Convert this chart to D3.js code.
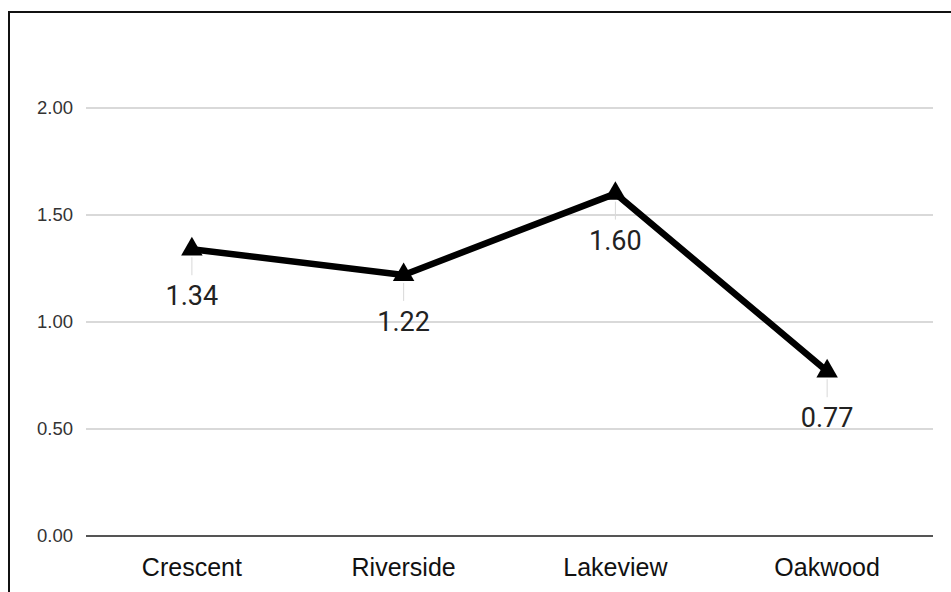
<!DOCTYPE html>
<html>
<head>
<meta charset="utf-8">
<script src="https://cdn.jsdelivr.net/npm/d3@7"></script>
<style>
  html, body { margin: 0; padding: 0; background: #fff; }
  svg { display: block; }
</style>
</head>
<body>
<svg id="chart" width="951" height="592"></svg>
<script>
// Neighbourhood values
const categories = ["Crescent", "Riverside", "Lakeview", "Oakwood"];
const values = [1.34, 1.22, 1.60, 0.77];
const yTicks = [0, 0.5, 1.0, 1.5, 2.0];

const svg = d3.select("#chart");
const W = 951, H = 592;
const margin = { left: 86, right: 18, top: 108, bottom: 56 };
const plotBottom = H - margin.bottom;

// Outer frame (top and left edges visible)
svg.append("rect")
  .attr("x", 9).attr("y", 12)
  .attr("width", W + 10).attr("height", H + 10)
  .attr("fill", "none").attr("stroke", "#111").attr("stroke-width", 2);

const x = d3.scaleBand().domain(categories).range([margin.left, W - margin.right]);
const y = d3.scaleLinear().domain([0, 2]).range([plotBottom, margin.top]);

// Horizontal gridlines
svg.append("g").selectAll("line").data(yTicks.filter(d => d > 0)).join("line")
  .attr("x1", margin.left).attr("x2", W - margin.right)
  .attr("y1", d => y(d)).attr("y2", d => y(d))
  .attr("stroke", "#cccccc").attr("stroke-width", 1.5);

// Baseline
svg.append("line")
  .attr("x1", margin.left).attr("x2", W - margin.right)
  .attr("y1", y(0)).attr("y2", y(0))
  .attr("stroke", "#555").attr("stroke-width", 2);

// Y axis labels
const yAxis = d3.axisLeft(y).tickValues(yTicks).tickFormat(d3.format(".2f")).tickSize(0).tickPadding(13);
const yg = svg.append("g").attr("transform", `translate(${margin.left},0)`).call(yAxis);
yg.select(".domain").remove();
yg.selectAll("text")
  .attr("font-family", "'Liberation Sans', Arial, sans-serif")
  .attr("font-size", 18.5).attr("fill", "#333");

// X axis labels
const xAxis = d3.axisBottom(x).tickSize(0).tickPadding(22);
const xg = svg.append("g").attr("transform", `translate(0,${y(0)})`).call(xAxis);
xg.select(".domain").remove();
xg.selectAll("text")
  .attr("font-family", "'Liberation Sans', Arial, sans-serif")
  .attr("font-size", 25).attr("fill", "#111");

const cx = d => x(d.cat) + x.bandwidth() / 2;
const pts = categories.map((c, i) => ({ cat: c, v: values[i] }));

// Leader lines from point to value label
svg.append("g").selectAll("line").data(pts).join("line")
  .attr("x1", cx).attr("x2", cx)
  .attr("y1", d => y(d.v) + 8).attr("y2", d => y(d.v) + 26)
  .attr("stroke", "#d8d8d8").attr("stroke-width", 1);

// Series line
svg.append("path").datum(pts)
  .attr("d", d3.line().x(cx).y(d => y(d.v)))
  .attr("fill", "none").attr("stroke", "#000").attr("stroke-width", 6.5)
  .attr("stroke-linejoin", "round");

// Triangle markers
svg.append("g").selectAll("path").data(pts).join("path")
  .attr("d", d3.symbol().type(d3.symbolTriangle).size(200))
  .attr("transform", d => `translate(${cx(d)},${y(d.v)})`)
  .attr("fill", "#000");

// Value labels
svg.append("g").selectAll("text").data(pts).join("text")
  .attr("x", cx).attr("y", d => y(d.v) + 56)
  .attr("text-anchor", "middle")
  .attr("font-family", "Roboto, 'Liberation Sans', sans-serif")
  .attr("font-size", 27).attr("fill", "#222")
  .text(d => d.v.toFixed(2));
</script>
</body>
</html>
